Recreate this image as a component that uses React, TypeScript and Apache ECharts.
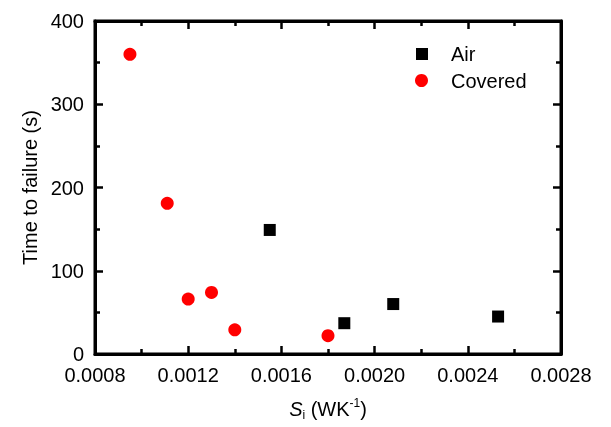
import React, { useEffect, useRef } from "react";
import * as echarts from "echarts";

const airX = [0.00155, 0.00187, 0.00208, 0.00253];
const airY = [149, 37, 60, 45];
const coveredX = [0.00095, 0.00111, 0.0012, 0.0013, 0.0014, 0.0018];
const coveredY = [360, 181, 66, 74, 29, 22];
const seriesNames = ["Air", "Covered"];
const yAxisTitle = "Time to failure (s)";

const FONT = "'Liberation Sans', Arial, sans-serif";
const FS = 20;

function frameAxis(kind: "x" | "y", position: string) {
  const range = kind === "x" ? { min: 0.0008, max: 0.0028, interval: 0.0004 } : { min: 0, max: 400, interval: 100 };
  return {
    type: "value",
    position,
    ...range,
    axisLine: { show: true, onZero: false, lineStyle: { color: "black", width: 3 } },
    axisTick: { show: true, inside: true, length: 8, lineStyle: { color: "black", width: 2.5 } },
    minorTick: { show: true, splitNumber: 2, length: 5, lineStyle: { color: "black", width: 2.5 } },
    splitLine: { show: false },
    axisLabel: { show: false },
  };
}

export default function App() {
  const ref = useRef<HTMLDivElement>(null);
  useEffect(() => {
    if (!ref.current) return;
    const chart = echarts.init(ref.current, null, { renderer: "svg" });
    chart.setOption({
      animation: false,
      grid: { left: 95, right: 50, top: 21, bottom: 73, show: true, borderColor: "#000", borderWidth: 3 },
      graphic: [
        { type: "rect", left: 416, top: 48, shape: { width: 12, height: 12 }, style: { fill: "#000" } },
        { type: "circle", left: 415, top: 74, shape: { r: 6.5 }, style: { fill: "#ff0000" } },
        { type: "text", left: 451, top: 44, style: { text: seriesNames[0], font: `${FS}px ${FONT}`, fill: "#000" } },
        { type: "text", left: 451, top: 71, style: { text: seriesNames[1], font: `${FS}px ${FONT}`, fill: "#000" } },
      ],
      xAxis: [
        {
          ...frameAxis("x", "bottom"),
          axisLabel: {
            show: true,
            margin: 11,
            fontFamily: FONT,
            fontSize: FS,
            color: "#000",
            formatter: (v: number) => v.toFixed(4),
          },
          name: "{s|S}{i|i} {t|(WK}{sup|-1}{t|)}",
          nameLocation: "middle",
          nameGap: 43,
          nameTextStyle: {
            fontFamily: FONT,
            fontSize: FS,
            color: "#000",
            rich: {
              s: { fontFamily: FONT, fontSize: FS, fontStyle: "italic", color: "#000" },
              i: { fontFamily: FONT, fontSize: 12, color: "#000", verticalAlign: "bottom", padding: [12, 0, 0, 0] },
              t: { fontFamily: FONT, fontSize: FS, color: "#000" },
              sup: { fontFamily: FONT, fontSize: 12, color: "#000", verticalAlign: "top", padding: [0, 0, 10, 0] },
            },
          },
        },
        frameAxis("x", "top"),
      ],
      yAxis: [
        {
          ...frameAxis("y", "left"),
          axisLabel: { show: true, margin: 11, fontFamily: FONT, fontSize: FS, color: "#000" },
          name: yAxisTitle,
          nameLocation: "middle",
          nameGap: 55,
          nameTextStyle: { fontFamily: FONT, fontSize: FS, color: "#000" },
        },
        frameAxis("y", "right"),
      ],
      series: [
        {
          name: seriesNames[0],
          type: "scatter",
          xAxisIndex: 0,
          yAxisIndex: 0,
          symbol: "rect",
          symbolSize: 12,
          itemStyle: { color: "#000", opacity: 1 },
          data: airX.map((x, i) => [x, airY[i]]),
        },
        {
          name: seriesNames[1],
          type: "scatter",
          xAxisIndex: 0,
          yAxisIndex: 0,
          symbol: "circle",
          symbolSize: 13,
          itemStyle: { color: "#ff0000", opacity: 1 },
          data: coveredX.map((x, i) => [x, coveredY[i]]),
        },
      ],
    });
    return () => chart.dispose();
  }, []);
  return <div ref={ref} style={{ position: "fixed", left: 0, top: 0, width: 611, height: 427 }} />;
}
